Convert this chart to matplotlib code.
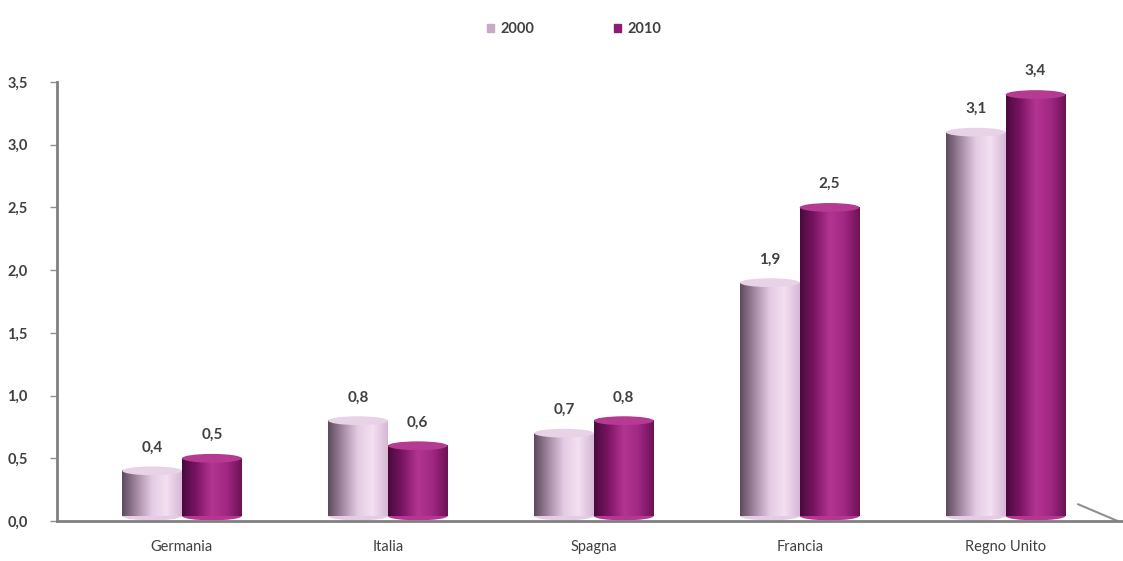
import matplotlib.pyplot as plt
import numpy as np
from matplotlib.patches import Ellipse
from matplotlib.colors import LinearSegmentedColormap

countries = ["Germania", "Italia", "Spagna", "Francia", "Regno Unito"]
years = ["2000", "2010"]
v2000 = [0.4, 0.8, 0.7, 1.9, 3.1]
v2010 = [0.5, 0.6, 0.8, 2.5, 3.4]

plt.rcParams['font.family'] = ['Lato', 'DejaVu Sans']

cmap_2000 = LinearSegmentedColormap.from_list(
    "c2000", ["#5e4c5e", "#a88ca6", "#e4cce4", "#f3e0f1", "#d6b8d6"])
cmap_2010 = LinearSegmentedColormap.from_list(
    "c2010", ["#4a0a3e", "#7e1666", "#b43592", "#a02882", "#6e1258"])
top_cols = ["#e8d2e6", "#b53a92"]
solid_cols = ["#c8aac8", "#8c1c72"]

fig = plt.figure(figsize=(11.23, 5.61), dpi=100)
ax = fig.add_axes([57 / 1123, 40 / 561, 1 - 57 / 1123, 439 / 561])

x = np.arange(len(countries))
bw = 0.29
grad = np.linspace(0, 1, 64).reshape(1, -1)
ell_h = 0.07

for vals, off, cmap, tcol in [(v2000, -bw, cmap_2000, top_cols[0]),
                             (v2010, 0.0, cmap_2010, top_cols[1])]:
    for xi, v in zip(x, vals):
        x0 = xi + off
        ax.imshow(grad, cmap=cmap, extent=[x0, x0 + bw, 0.04, v],
                  aspect='auto', zorder=2, interpolation='bicubic')
        ax.add_patch(Ellipse((x0 + bw / 2, 0.04), bw, ell_h,
                             facecolor=cmap(0.5), edgecolor='none', zorder=1.9))
        ax.add_patch(Ellipse((x0 + bw / 2, v), bw, ell_h,
                             facecolor=tcol, edgecolor='none', zorder=3))
        ax.text(x0 + bw / 2, v + 0.13, f"{v:.1f}".replace(".", ","),
                ha='center', va='bottom', fontsize=11, color='#404040',
                fontweight='bold')

ax.set_xlim(-0.607, 4.57)
ax.set_ylim(0, 3.5)
ax.set_xticks(x)
ax.set_xticklabels(countries, fontsize=10.5, color='#404040')
yt = np.arange(0, 3.51, 0.5)
ax.set_yticks(yt)
ax.set_yticklabels([f"{t:.1f}".replace(".", ",") for t in yt],
                   fontsize=10.5, color='#404040', fontweight='bold')
ax.tick_params(axis='x', length=0, pad=14)
ax.tick_params(axis='y', length=5, color='#909090', width=1, pad=16)
for s in ['top', 'right']:
    ax.spines[s].set_visible(False)
for s in ['left', 'bottom']:
    ax.spines[s].set_color('#808080')
    ax.spines[s].set_linewidth(2)
ax.set_facecolor('none')

# 3D floor edge at the right
ax.plot([0.958, 0.995], [0.038, 0.0], transform=ax.transAxes,
        color='#909090', lw=1.5, clip_on=False)

handles = [plt.Rectangle((0, 0), 1, 1, color=c) for c in solid_cols]
fig.legend(handles, years, loc='center', bbox_to_anchor=(574 / 1123, 1 - 29 / 561),
           ncol=2, frameon=False, fontsize=10.5, handlelength=0.5, handleheight=0.5,
           columnspacing=5.5, handletextpad=0.4, labelcolor='#404040',
           prop={'weight': 'bold', 'size': 10.5})

fig.savefig("out.png", dpi=100)
